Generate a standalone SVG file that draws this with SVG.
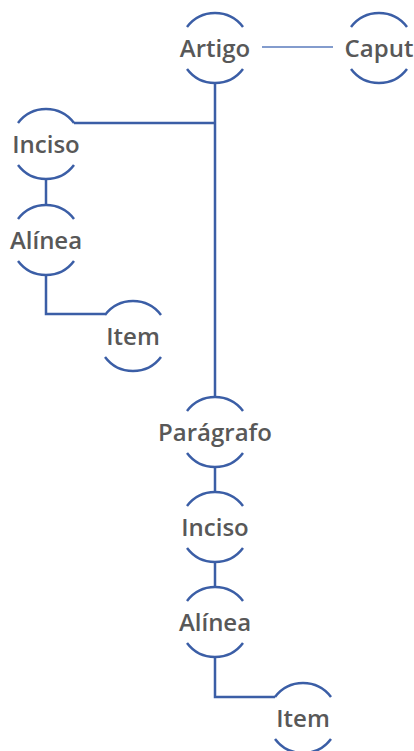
<svg xmlns="http://www.w3.org/2000/svg" xmlns:xlink="http://www.w3.org/1999/xlink" width="414" height="751" viewBox="0 0 414 751">
  <style>
    .ring { fill: none; stroke: #3b5ea6; stroke-width: 2.5; }
    .link { fill: none; stroke: #3b5ea6; stroke-width: 2.5; }
    .link-thin { fill: none; stroke: #5a7bbd; stroke-width: 1.5; }
    .label { font-family: "Open Sans", "Liberation Sans", sans-serif; font-weight: 600; font-size: 24px; fill: #585858; text-anchor: middle; }
  </style>
  <defs>
    <!-- circle outline split at the sides to leave room for the label -->
    <g id="ring">
      <path class="ring" d="M -28 -21 A 35 35 0 0 1 28 -21"/>
      <path class="ring" d="M -28 21 A 35 35 0 0 0 28 21"/>
    </g>
  </defs>

  <g id="connectors">
    <line class="link-thin" x1="262" y1="47" x2="333" y2="47"/>
    <path class="link" d="M215 83 V397"/>
    <path class="link" d="M74 123 H215"/>
    <path class="link" d="M46 179 V205"/>
    <path class="link" d="M46 275 V314 H105"/>
    <path class="link" d="M215 467 V492"/>
    <path class="link" d="M215 562 V587"/>
    <path class="link" d="M215 657 V697 H275"/>
  </g>

  <g id="node-artigo" transform="translate(215,48)">
    <use xlink:href="#ring"/>
    <text class="label" x="0" y="9">Artigo</text>
  </g>
  <g id="node-caput" transform="translate(379,48)">
    <use xlink:href="#ring"/>
    <text class="label" x="0" y="9">Caput</text>
  </g>
  <g id="node-inciso-1" transform="translate(46,144)">
    <use xlink:href="#ring"/>
    <text class="label" x="0" y="9">Inciso</text>
  </g>
  <g id="node-alinea-1" transform="translate(46,240)">
    <use xlink:href="#ring"/>
    <text class="label" x="0" y="9">Alínea</text>
  </g>
  <g id="node-item-1" transform="translate(133,336)">
    <use xlink:href="#ring"/>
    <text class="label" x="0" y="9">Item</text>
  </g>
  <g id="node-paragrafo" transform="translate(215,432)">
    <use xlink:href="#ring"/>
    <text class="label" x="0" y="9">Parágrafo</text>
  </g>
  <g id="node-inciso-2" transform="translate(215,527)">
    <use xlink:href="#ring"/>
    <text class="label" x="0" y="9">Inciso</text>
  </g>
  <g id="node-alinea-2" transform="translate(215,622)">
    <use xlink:href="#ring"/>
    <text class="label" x="0" y="9">Alínea</text>
  </g>
  <g id="node-item-2" transform="translate(303,718)">
    <use xlink:href="#ring"/>
    <text class="label" x="0" y="9">Item</text>
  </g>
</svg>
